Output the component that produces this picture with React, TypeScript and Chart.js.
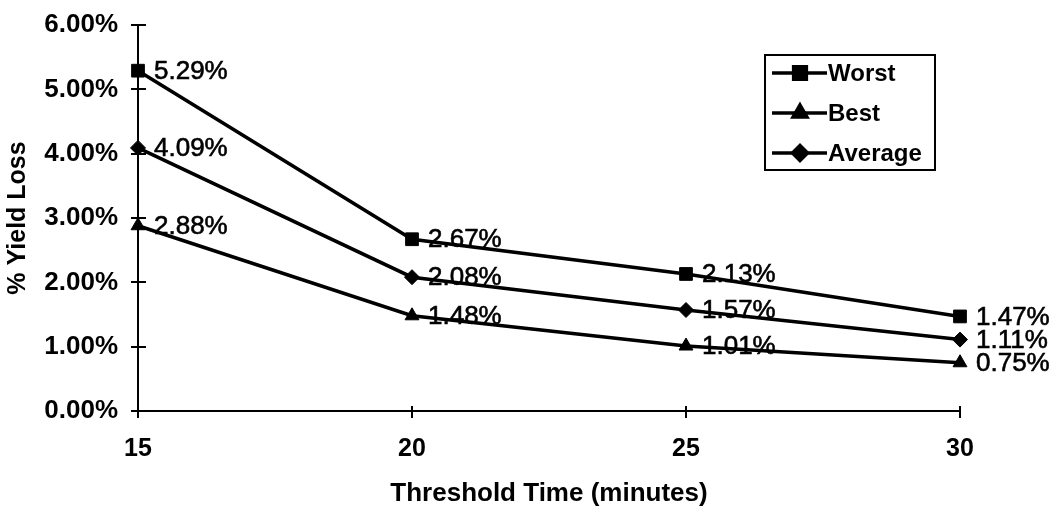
import { useEffect, useRef } from "react";
import { Chart, registerables } from "chart.js";
import { drawPoint } from "chart.js/helpers";

Chart.register(...registerables);

// Threshold times (minutes) on the x axis
const thresholdMinutes = ["15", "20", "25", "30"];

// Yield loss in percent for each threshold time
const worstLoss = [5.29, 2.67, 2.13, 1.47];
const bestLoss = [2.88, 1.48, 1.01, 0.75];
const averageLoss = [4.09, 2.08, 1.57, 1.11];

// Series names as shown in the legend
const seriesNames = ["Worst", "Best", "Average"];

// Y axis range and step, in percent
const yMin = 0;
const yMax = 6;
const yStep = 1;

const FONT_FAMILY = '"Liberation Sans", Arial, Helvetica, sans-serif';
const INK = "#000000";

// Tick marks that cross the axis lines on both sides
const crossTicks = {
  id: "crossTicks",
  afterDatasetsDraw(chart: any) {
    const { ctx, scales } = chart;
    const x = scales.x;
    const y = scales.y;
    ctx.save();
    ctx.strokeStyle = INK;
    ctx.lineWidth = 2;
    ctx.beginPath();
    y.ticks.forEach((_t: any, i: number) => {
      const py = Math.round(y.getPixelForTick(i));
      ctx.moveTo(x.left - 7, py);
      ctx.lineTo(x.left + 8, py);
    });
    x.ticks.forEach((_t: any, i: number) => {
      const px = Math.round(x.getPixelForTick(i));
      ctx.moveTo(px, y.bottom - 5);
      ctx.lineTo(px, y.bottom + 7);
    });
    ctx.stroke();
    ctx.restore();
  },
};

// Value labels to the right of every marker
const valueLabels = {
  id: "valueLabels",
  afterDatasetsDraw(chart: any) {
    const { ctx } = chart;
    ctx.save();
    ctx.fillStyle = INK;
    ctx.strokeStyle = INK;
    ctx.lineWidth = 0.6;
    ctx.font = `26px ${FONT_FAMILY}`;
    ctx.textAlign = "left";
    ctx.textBaseline = "middle";
    chart.data.datasets.forEach((ds: any, di: number) => {
      const meta = chart.getDatasetMeta(di);
      meta.data.forEach((pt: any, i: number) => {
        const v = ds.data[i] as number;
        const text = `${v.toFixed(2)}%`;
        ctx.fillText(text, pt.x + 16, pt.y + 1);
        ctx.strokeText(text, pt.x + 16, pt.y + 1);
      });
    });
    ctx.restore();
  },
};

// Boxed legend inside the plot area, top right
const boxedLegend = {
  id: "boxedLegend",
  afterDraw(chart: any) {
    const { ctx } = chart;
    const boxX = 765;
    const boxY = 55;
    const boxW = 170;
    const boxH = 115;
    ctx.save();
    ctx.fillStyle = "#ffffff";
    ctx.fillRect(boxX, boxY, boxW, boxH);
    ctx.strokeStyle = INK;
    ctx.lineWidth = 2;
    ctx.strokeRect(boxX, boxY, boxW, boxH);
    ctx.font = `bold 24px ${FONT_FAMILY}`;
    ctx.textAlign = "left";
    ctx.textBaseline = "middle";
    chart.data.datasets.forEach((ds: any, i: number) => {
      const cy = boxY + 18 + i * 40;
      ctx.strokeStyle = INK;
      ctx.lineWidth = 3.5;
      ctx.beginPath();
      ctx.moveTo(boxX + 7, cy);
      ctx.lineTo(boxX + 62, cy);
      ctx.stroke();
      ctx.fillStyle = INK;
      drawPoint(
        ctx,
        { pointStyle: ds.pointStyle, radius: ds.pointRadius, rotation: 0, borderWidth: 1 },
        boxX + 35,
        cy
      );
      ctx.fill();
      ctx.fillStyle = INK;
      ctx.fillText(ds.label, boxX + 63, cy + 1);
    });
    ctx.restore();
  },
};

export default function App() {
  const canvasRef = useRef<HTMLCanvasElement | null>(null);

  useEffect(() => {
    const canvas = canvasRef.current;
    if (!canvas) return;

    const lineSeries = (label: string, data: number[], pointStyle: string, radius: number) => ({
      label,
      data,
      borderColor: INK,
      backgroundColor: INK,
      borderWidth: 3.5,
      pointStyle,
      pointRadius: radius,
      pointBackgroundColor: INK,
      pointBorderColor: INK,
      pointBorderWidth: 1,
      tension: 0,
      fill: false,
    });

    const chart = new Chart(canvas, {
      type: "line",
      data: {
        labels: thresholdMinutes,
        datasets: [
          lineSeries(seriesNames[0], worstLoss, "rect", 9),
          lineSeries(seriesNames[1], bestLoss, "triangle", 8),
          lineSeries(seriesNames[2], averageLoss, "rectRot", 7.5),
        ],
      },
      options: {
        responsive: false,
        animation: false,
        devicePixelRatio: 1,
        layout: { padding: { top: 25, right: 92, bottom: 0, left: 0 } },
        plugins: {
          legend: { display: false },
          tooltip: { enabled: false },
        },
        scales: {
          x: {
            type: "category",
            offset: false,
            grid: { display: false, drawTicks: false },
            border: { display: true, color: INK, width: 2 },
            ticks: {
              color: INK,
              padding: 23,
              maxRotation: 0,
              font: { family: FONT_FAMILY, size: 25, weight: "bold" },
            },
            title: {
              display: true,
              text: "Threshold Time (minutes)",
              color: INK,
              padding: { top: 0, bottom: -1 },
              font: { family: FONT_FAMILY, size: 26, weight: "bold" },
            },
            afterFit(scale: any) {
              scale.height = 97;
              scale.paddingLeft = 0;
              scale.paddingRight = 0;
            },
          },
          y: {
            min: yMin,
            max: yMax,
            grid: { display: false, drawTicks: false },
            border: { display: true, color: INK, width: 2 },
            ticks: {
              stepSize: yStep,
              color: INK,
              padding: 20,
              font: { family: FONT_FAMILY, size: 26, weight: "bold" },
              callback: (v: any) => `${Number(v).toFixed(2)}%`,
            },
            title: {
              display: true,
              text: "% Yield Loss",
              color: INK,
              padding: { top: 3, bottom: 0 },
              font: { family: FONT_FAMILY, size: 25, weight: "bold" },
            },
            afterFit(scale: any) {
              scale.width = 138;
              scale.paddingTop = 0;
              scale.paddingBottom = 0;
            },
          },
        },
      },
      plugins: [crossTicks, valueLabels, boxedLegend],
    } as any);

    return () => chart.destroy();
  }, []);

  return (
    <div
      style={{
        position: "fixed",
        left: 0,
        top: 0,
        width: 1052,
        height: 508,
        background: "#ffffff",
      }}
    >
      <canvas ref={canvasRef} width={1052} height={508} />
    </div>
  );
}
